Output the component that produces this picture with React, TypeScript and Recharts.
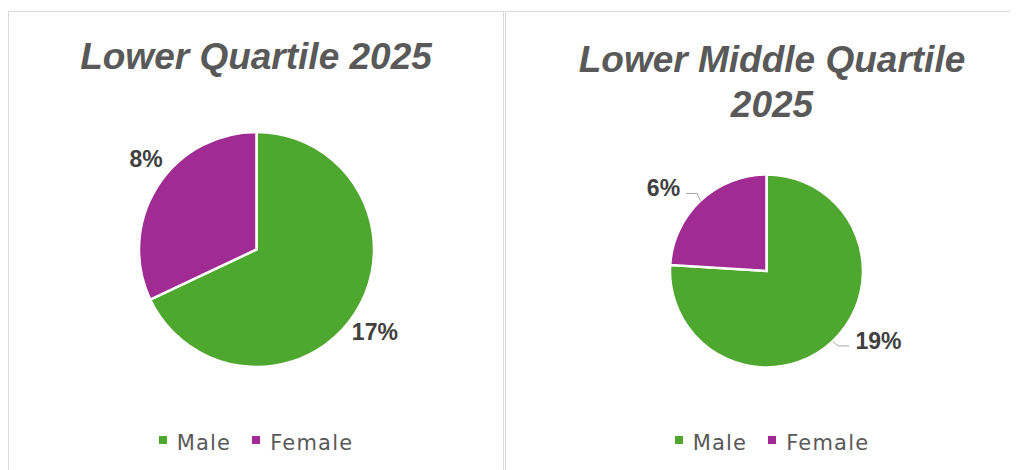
import React from 'react';
import { PieChart, Pie, Cell, Legend } from 'recharts';

// ---- data ----
const categories = ['Male', 'Female'];
const lowerQuartile = [17, 8];
const lowerMiddleQuartile = [19, 6];
const sliceColors = ['#4EA72E', '#A02B93'];
const leftTitle = ['Lower Quartile 2025'];
const rightTitle = ['Lower Middle Quartile', '2025'];

// label placement (angle shift in degrees from slice mid angle, radial offset beyond pie edge)
const leftLabelLayout = [
  { shift: -2.6, offset: 27, leader: false },
  { shift: -6.8, offset: 25, leader: false },
];
const rightLabelLayout = [
  { shift: 14.8, offset: 35.5, leader: true },
  { shift: 8.1, offset: 35.5, leader: true },
];

const LABEL_FS = 23;
const TITLE_FONT = '"Liberation Sans", Arial, sans-serif';
const LEGEND_FONT = '"DejaVu Sans", sans-serif';

const textWidth = (s: string) => {
  let w = 0;
  for (const ch of s) w += ch === '%' ? 0.889 : 0.556;
  return w * LABEL_FS;
};

const makeLabel = (layout: any[]) => (props: any) => {
  const { cx, cy, midAngle, outerRadius, value, index } = props;
  const cfg = layout[index];
  const RAD = Math.PI / 180;
  const a = (midAngle + cfg.shift) * RAD;
  const r = outerRadius + cfg.offset;
  const x = cx + r * Math.cos(a);
  const y = cy - r * Math.sin(a);
  const text = `${value}%`;
  let leader = null;
  if (cfg.leader) {
    const m = midAngle * RAD;
    const ax = cx + outerRadius * Math.cos(m);
    const ay = cy - outerRadius * Math.sin(m);
    const half = textWidth(text) / 2;
    const dir = x > cx ? -1 : 1;
    const endX = x + dir * (half + 6);
    const bendX = endX + dir * 11;
    const ly = y + 5;
    leader = (
      <polyline
        points={`${ax},${ay} ${bendX},${ly} ${endX},${ly}`}
        fill="none"
        stroke="#A6A6A6"
        strokeWidth={1}
      />
    );
  }
  return (
    <g key={`lbl-${index}`}>
      {leader}
      <text
        x={x}
        y={y}
        textAnchor="middle"
        dominantBaseline="central"
        fontFamily={TITLE_FONT}
        fontWeight="bold"
        fontSize={LABEL_FS}
        fill="#404040"
      >
        {text}
      </text>
    </g>
  );
};

const renderLegend = () => {
  return (
    <div style={{ display: 'flex', justifyContent: 'center', alignItems: 'flex-start' }}>
      {categories.map((name, i) => (
        <div
          key={name}
          style={{ display: 'flex', alignItems: 'flex-start', marginRight: i < categories.length - 1 ? 21 : 0 }}
        >
          <div style={{ width: 8, height: 8, background: sliceColors[i], marginTop: 3, marginRight: 10 }} />
          <span
            style={{
              fontFamily: LEGEND_FONT,
              fontSize: 21,
              lineHeight: '20px',
              letterSpacing: 1.2,
              color: '#595959',
            }}
          >
            {name}
          </span>
        </div>
      ))}
    </div>
  );
};

function PiePanel(props: {
  values: number[];
  title: string[];
  width: number;
  height: number;
  cx: number;
  cy: number;
  radius: number;
  layout: any[];
  titleTop: number;
  legendTop: number;
}) {
  const data = categories.map((name, i) => ({ name, value: props.values[i] }));
  return (
    <div style={{ position: 'relative', width: props.width, height: props.height }}>
      <div
        style={{
          position: 'absolute',
          left: 0,
          top: props.titleTop,
          width: props.width,
          textAlign: 'center',
          fontFamily: TITLE_FONT,
          fontWeight: 'bold',
          fontStyle: 'italic',
          fontSize: 37,
          lineHeight: '45px',
          color: '#595959',
          zIndex: 2,
        }}
      >
        {props.title.map((t, i) => (
          <div key={i}>{t}</div>
        ))}
      </div>
      <PieChart width={props.width} height={props.height} margin={{ top: 0, right: 0, bottom: 0, left: 0 }}>
        <Pie
          data={data}
          dataKey="value"
          nameKey="name"
          cx={props.cx}
          cy={props.cy}
          outerRadius={props.radius}
          startAngle={90}
          endAngle={-270}
          stroke="#FFFFFF"
          strokeWidth={2.5}
          isAnimationActive={false}
          labelLine={false}
          label={makeLabel(props.layout)}
        >
          {data.map((d, i) => (
            <Cell key={d.name} fill={sliceColors[i]} />
          ))}
        </Pie>
        <Legend
          content={renderLegend}
          wrapperStyle={{ position: 'absolute', top: props.legendTop, left: 0, width: props.width }}
        />
      </PieChart>
    </div>
  );
}

export default function App() {
  return (
    <div style={{ position: 'relative', width: 1010, height: 462, overflow: 'hidden', background: '#fff' }}>
      <div
        style={{
          position: 'absolute',
          left: 0,
          top: 3,
          width: 494,
          height: 458,
          borderTop: '1px solid #D9D9D9',
          borderLeft: '1px solid #D9D9D9',
          borderRight: '1px solid #D9D9D9',
        }}
      >
        <PiePanel
          values={lowerQuartile}
          title={leftTitle}
          width={494}
          height={458}
          cx={247.5}
          cy={237.5}
          radius={117.5}
          layout={leftLabelLayout}
          titleTop={22}
          legendTop={421}
        />
      </div>
      <div
        style={{
          position: 'absolute',
          left: 497,
          top: 3,
          width: 532,
          height: 458,
          borderTop: '1px solid #D9D9D9',
          borderLeft: '1px solid #D9D9D9',
        }}
      >
        <PiePanel
          values={lowerMiddleQuartile}
          title={rightTitle}
          width={532}
          height={458}
          cx={260.5}
          cy={259}
          radius={96.5}
          layout={rightLabelLayout}
          titleTop={25}
          legendTop={421}
        />
      </div>
    </div>
  );
}
